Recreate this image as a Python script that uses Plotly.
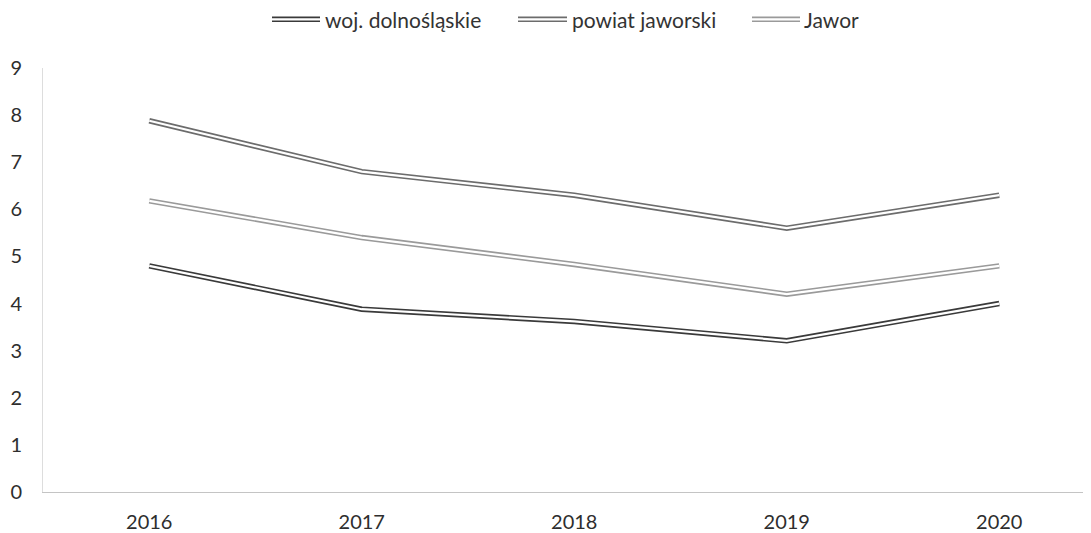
import plotly.graph_objects as go

years = ["2016", "2017", "2018", "2019", "2020"]
woj = [4.8, 3.88, 3.62, 3.21, 4.0]
powiat = [7.88, 6.8, 6.3, 5.6, 6.3]
jawor = [6.18, 5.4, 4.83, 4.2, 4.8]
y_ticks = list(range(0, 10))

series = [
    ("woj. dolnośląskie", woj, "#3a3a3a"),
    ("powiat jaworski", powiat, "#6c6c6c"),
    ("Jawor", jawor, "#9a9a9a"),
]

# page offset (browser body margin)
OFF = 8
W, H = 1091 - OFF, 533 - OFF
ML, MR, MT, MB = 43 - OFF, 0, 68 - OFF, 533 - 495
PW, PH = W - ML - MR, H - MT - MB
SPACING = 212.5  # pixels per category in the reference

def px(x):  # page pixel -> paper
    return (x - OFF - ML) / PW

def py(y):
    return (H - MB - (y - OFF)) / PH

fig = go.Figure()
for name, vals, col in series:
    fig.add_trace(go.Scatter(x=list(range(len(years))), y=vals, mode="lines",
                             line=dict(color=col, width=5.5), showlegend=False,
                             hoverinfo="skip"))
    fig.add_trace(go.Scatter(x=list(range(len(years))), y=vals, mode="lines",
                             line=dict(color="white", width=2.2), showlegend=False,
                             name=name))

# manual legend with double-line symbols (page pixel positions)
legend_items = [(272, 320, 325), (518, 567, 572), (752, 800, 804)]
shapes = []
annotations = []
ly = 19
for (x0, x1, tx), (name, vals, col) in zip(legend_items, series):
    shapes.append(dict(type="line", xref="paper", yref="paper", x0=px(x0), x1=px(x1),
                       y0=py(ly), y1=py(ly), line=dict(color=col, width=5.5)))
    shapes.append(dict(type="line", xref="paper", yref="paper", x0=px(x0), x1=px(x1),
                       y0=py(ly), y1=py(ly), line=dict(color="white", width=2.2)))
    annotations.append(dict(text=name, xref="paper", yref="paper", x=px(tx), y=py(ly),
                            xanchor="left", yanchor="middle", showarrow=False,
                            xshift=-2,
                            font=dict(size=21, color="#333333", family="Lato")))

fig.update_layout(
    width=W, height=H,
    margin=dict(l=ML, r=MR, t=MT, b=MB, pad=0),
    paper_bgcolor="white", plot_bgcolor="white",
    font=dict(family="Lato", size=20, color="#2e2e2e"),
    shapes=shapes, annotations=annotations,
    xaxis=dict(range=[-0.5, -0.5 + PW / SPACING], tickmode="array",
               tickvals=list(range(len(years))), ticktext=years,
               showgrid=False, zeroline=False, showline=True,
               linecolor="#c4c4c4", linewidth=1.2,
               ticks="outside", ticklen=12, tickcolor="rgba(0,0,0,0)"),
    yaxis=dict(range=[0, 9], tickmode="array", tickvals=y_ticks,
               ticktext=[str(v) for v in y_ticks],
               showgrid=False, zeroline=False, showline=True,
               linecolor="#dddddd", linewidth=1,
               ticks="outside", ticklen=16, tickcolor="rgba(0,0,0,0)"),
)

fig.write_html("out.html")
